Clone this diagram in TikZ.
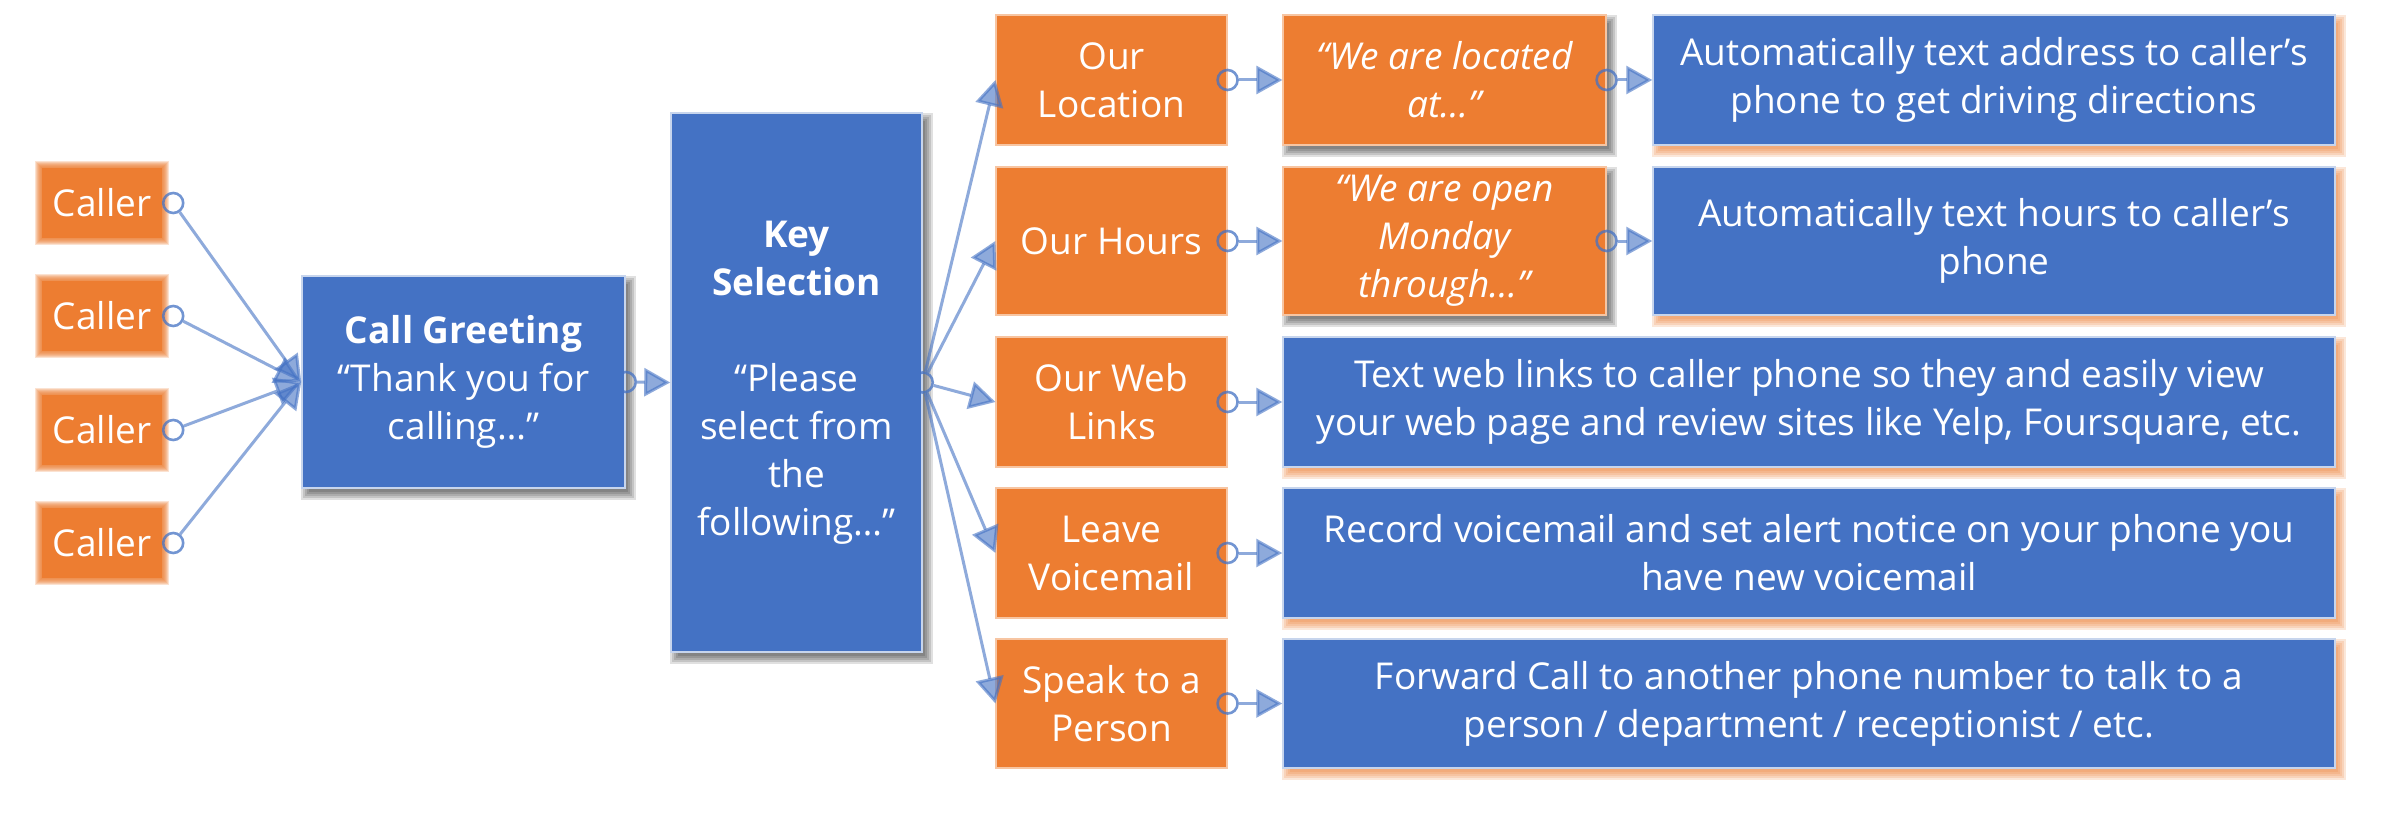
\documentclass[tikz,border=0pt]{standalone}
\usepackage{fontspec}
\setmainfont{Open Sans}
\usetikzlibrary{arrows.meta,calc,backgrounds}
\definecolor{blu}{HTML}{4472C4}
\definecolor{org}{HTML}{ED7D31}
\newcommand\myshadow[3]{%
  \foreach \e in {-3,-1,1,3,5}{%
    \fill[#2, opacity=#3] ($(#1.south west)+(5-\e,6+\e)$) rectangle ($(#1.north east)+(5+\e,6-\e)$);
  }}
\newcommand\mysoft[1]{%
  \fill[org] ($(#1.south west)+(4,-4)$) rectangle ($(#1.north east)+(-4,4)$);
  \foreach \d in {3,2,1,0,-1,-2,-3}{%
    \fill[org, opacity=0.22] ($(#1.south west)+(\d,-\d)$) rectangle ($(#1.north east)+(-\d,\d)$);
  }}
\begin{document}
\begin{tikzpicture}[x=1pt,y=-1pt,
  every node/.style={text=white, font=\fontsize{37}{48}\selectfont, align=center, inner sep=0pt},
  bbox/.style={rectangle, fill=blu, draw=white!70!blu, line width=1.5pt},
  obox/.style={rectangle, fill=org, draw=white!55!org, line width=1.2pt},
  caller/.style={rectangle, minimum width=128pt, minimum height=78pt},
  dotc/.style={circle, draw=blu, draw opacity=0.75, line width=2.6pt, minimum size=20pt, fill=none},
  conn/.style={draw=blu, opacity=0.6, line width=3pt, -{Triangle[length=26pt,width=28pt]}},
]
\useasboundingbox (0,0) rectangle (2398,813);

% callers
\node[caller] (c1) at (102,203) {Caller};
\node[caller] (c2) at (102,316) {Caller};
\node[caller] (c3) at (102,430) {Caller};
\node[caller] (c4) at (102,543) {Caller};

\node[bbox, minimum width=323pt, minimum height=212pt] (greet) at (463.5,382)
  {\textbf{Call Greeting}\\“Thank you for\\calling…”};
\node[bbox, minimum width=251pt, minimum height=539pt] (key) at (796.5,382.5)
  {\textbf{Key}\\\textbf{Selection}\\[48pt]“Please\\select from\\the\\following…”};

% options column
\node[obox, minimum width=231pt, minimum height=130pt] (o1) at (1111.5,80) {Our\\Location};
\node[obox, minimum width=231pt, minimum height=148pt] (o2) at (1111.5,241) {Our Hours};
\node[obox, minimum width=231pt, minimum height=130pt] (o3) at (1111.5,402) {Our Web\\Links};
\node[obox, minimum width=231pt, minimum height=130pt] (o4) at (1111.5,553) {Leave\\Voicemail};
\node[obox, minimum width=231pt, minimum height=129pt] (o5) at (1111.5,703.5) {Speak to a\\Person};

% quotes
\node[obox, minimum width=323pt, minimum height=130pt, font=\fontsize{37}{48}\selectfont\itshape] (q1) at (1444.5,80) {“We are located\\at…”};
\node[obox, minimum width=323pt, minimum height=148pt, font=\fontsize{37}{48}\selectfont\itshape] (q2) at (1444.5,241) {“We are open\\Monday\\through…”};

% results
\node[bbox, minimum width=682pt, minimum height=130pt] (r1) at (1994,80) {Automatically text address to caller’s\\phone to get driving directions};
\node[bbox, minimum width=682pt, minimum height=148pt] (r2) at (1994,241) {Automatically text hours to caller’s\\phone};
\node[bbox, minimum width=1052pt, minimum height=130pt] (r3) at (1809,402) {Text web links to caller phone so they and easily view\\your web page and review sites like Yelp, Foursquare, etc.};
\node[bbox, minimum width=1052pt, minimum height=130pt] (r4) at (1809,553) {Record voicemail and set alert notice on your phone you\\have new voicemail};
\node[bbox, minimum width=1052pt, minimum height=129pt] (r5) at (1809,703.5) {Forward Call to another phone number to talk to a\\person / department / receptionist / etc.};

\begin{scope}[on background layer]
  \fill[white] (0,0) rectangle (2398,813);
  \mysoft{c1}\mysoft{c2}\mysoft{c3}\mysoft{c4}
  \myshadow{greet}{black}{0.12}
  \myshadow{key}{black}{0.12}
  \myshadow{q1}{black}{0.12}
  \myshadow{q2}{black}{0.12}
  \myshadow{r1}{org}{0.18}
  \myshadow{r2}{org}{0.18}
  \myshadow{r3}{org}{0.18}
  \myshadow{r4}{org}{0.18}
  \myshadow{r5}{org}{0.18}
\end{scope}

% start circles
\foreach \c in {c1,c2,c3,c4}{\node[dotc] (\c-d) at ($(\c.east)+(7,0)$) {};}
\node[dotc] (g-d) at (greet.east) {};
\node[dotc] (k-d) at (key.east) {};
\foreach \o in {o1,o2,o3,o4,o5,q1,q2}{\node[dotc] (\o-d) at (\o.east) {};}

% connectors
\foreach \c in {c1,c2,c3,c4}{\draw[conn] (\c-d) -- (greet.west);}
\draw[conn] (g-d) -- (key.west);
\foreach \o in {o1,o2,o3,o4,o5}{\draw[conn] (k-d) -- (\o.west);}
\draw[conn] (o1-d) -- (q1);
\draw[conn] (o2-d) -- (q2);
\draw[conn] (q1-d) -- (r1);
\draw[conn] (q2-d) -- (r2);
\draw[conn] (o3-d) -- (r3);
\draw[conn] (o4-d) -- (r4);
\draw[conn] (o5-d) -- (r5);
\end{tikzpicture}
\end{document}
